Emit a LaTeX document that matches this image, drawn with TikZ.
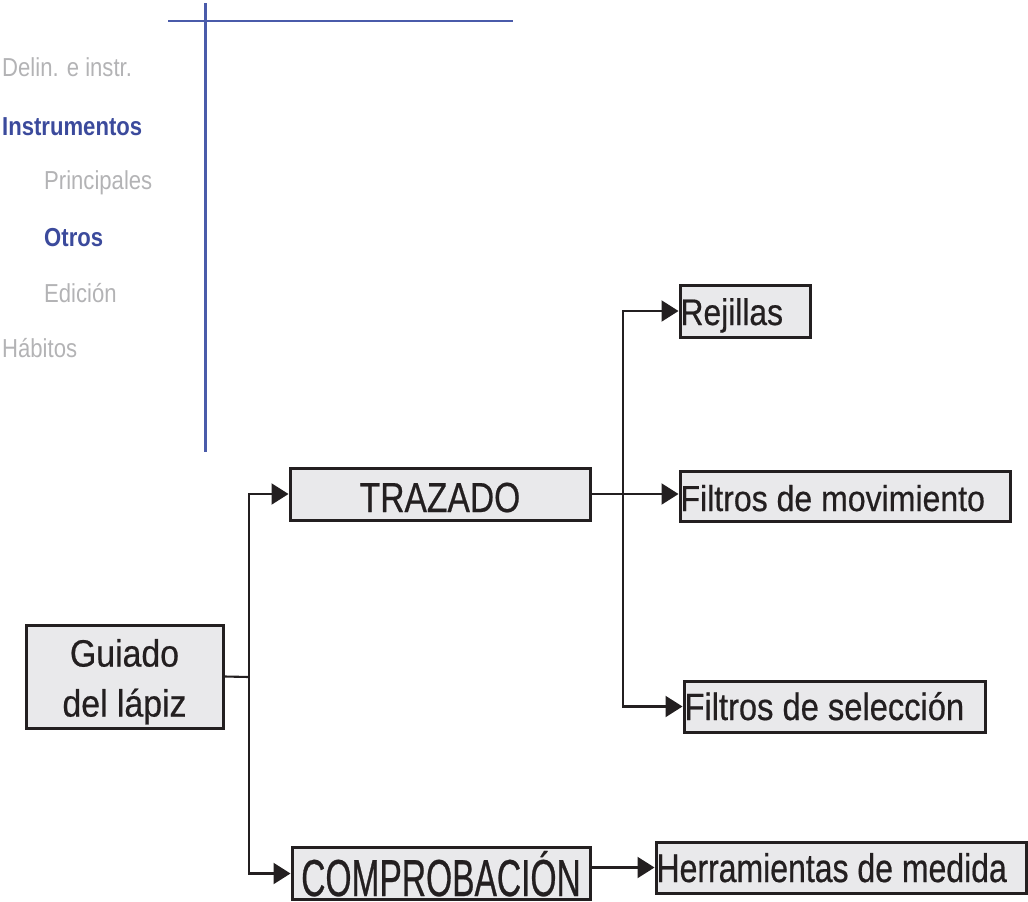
\documentclass[tikz,border=0pt]{standalone}
\usepackage{fontspec}
\setmainfont{Liberation Sans}
\newfontfamily\fMenu[FakeStretch=0.85]{Liberation Sans}
\newfontfamily\fGui[FakeStretch=0.89,FakeBold=0.5]{Liberation Sans}
\newfontfamily\fTra[FakeStretch=0.80,FakeBold=0.5]{Liberation Sans}
\newfontfamily\fFil[FakeStretch=0.86,FakeBold=0.5]{Liberation Sans}
\newfontfamily\fMov[FakeStretch=0.89,FakeBold=0.5]{Liberation Sans}
\newfontfamily\fCom[FakeStretch=0.645,FakeBold=0.5]{Liberation Sans}
\usetikzlibrary{arrows.meta}
\definecolor{boxfill}{HTML}{E9E9EB}
\definecolor{ink}{HTML}{231F20}
\definecolor{menugray}{HTML}{B3B3B5}
\definecolor{menublue}{HTML}{3B4A9C}
\definecolor{lineblue}{HTML}{4A5BAA}
\tikzset{
  box/.style={draw=ink, fill=boxfill, line width=3pt, inner sep=0pt, text=ink},
  oneline/.style={box, text depth=0pt, text height=#1},
  conn/.style={draw=ink, line width=2.1pt},
  arr/.style={conn, -{Triangle[length=17pt,width=21pt]}},
  menu/.style={inner sep=0pt, anchor=base west, text=menugray, font=\fMenu\fontsize{26}{30}\selectfont},
  menusel/.style={menu, text=menublue, font=\fMenu\fontsize{26}{30}\selectfont\bfseries},
  guide/.style={draw=lineblue, line width=2.2pt}
}
\begin{document}
\begin{tikzpicture}[x=1pt,y=-1pt]
\useasboundingbox (0,0) rectangle (1028,902);
% guide lines
\draw[guide] (168,21) -- (513,21);
\draw[guide] (205.5,3) -- (205.5,452);
% menu
\node[menu] (m1) at (2,76.5) {Delin. e instr.};
\node[menusel] (m2) at (2,135.5) {Instrumentos};
\node[menu] (m3) at (44,189.5) {Principales};
\node[menusel] (m4) at (44,246.5) {Otros};
\node[menu] (m5) at (44,302.5) {Edición};
\node[menu] (m6) at (2,357) {Hábitos};
% boxes
\node[box, minimum width=197pt, minimum height=103pt] (guiado) at (124.5,676.5)
  {\parbox[c][103pt][t]{197pt}{\centering\fGui\fontsize{38}{50}\selectfont\vspace*{14pt}Guiado\\del lápiz}};
\node[oneline=36pt, minimum width=300pt, minimum height=52pt] (trazado) at (440,494)
  {\fTra\fontsize{42}{42}\selectfont TRAZADO};
\node[oneline=28pt, minimum width=130pt, minimum height=52pt] (rejillas) at (745,311)
  {\makebox[130pt][l]{\hspace{0.5pt}\fFil\fontsize{37}{37}\selectfont Rejillas}};
\node[oneline=30pt, minimum width=330pt, minimum height=50pt] (movim) at (845,496)
  {\makebox[330pt][l]{\hspace{0.5pt}\fMov\fontsize{36}{36}\selectfont Filtros de movimiento}};
\node[oneline=27pt, minimum width=301pt, minimum height=51pt] (selec) at (834.5,706.5)
  {\makebox[301pt][l]{\hspace{0.5pt}\fFil\fontsize{38}{38}\selectfont Filtros de selección}};
\node[oneline=45pt, minimum width=298pt, minimum height=52pt] (compro) at (441,873.5)
  {\fCom\fontsize{52}{52}\selectfont COMPROBACIÓN};
\node[oneline=29pt, minimum width=370pt, minimum height=51pt] (herr) at (841,867.5)
  {\makebox[370pt][l]{\hspace{0.5pt}\fTra\fontsize{40}{40}\selectfont Herramientas de medida}};
% connectors
\coordinate (j1) at (249,677);
\coordinate (j2) at (623,494);
\draw[conn] (guiado.east) -- (j1);
\draw[arr] (j1) |- (trazado.west);
\draw[arr] (j1) |- (compro.west);
\draw[arr] (trazado.east) -- (trazado.east -| movim.west);
\draw[arr] (j2) |- (rejillas.west);
\draw[arr] (j2) |- (selec.west);
\draw[arr] (compro.east |- herr.west) -- (herr.west);
\end{tikzpicture}
\end{document}
